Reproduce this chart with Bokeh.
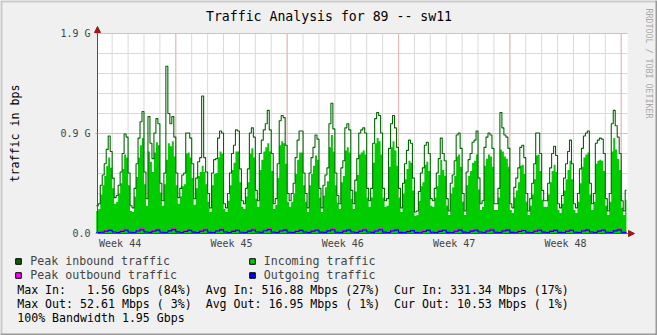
import numpy as np
from bokeh.plotting import figure
from bokeh.models import (Range1d, FixedTicker, LinearAxis, Label, Legend,
                          LegendItem, Arrow, NormalHead, Span)
from bokeh.embed import file_html
from bokeh.resources import INLINE

# ---------------- data ----------------
# inbound traffic sampled every 3 hours (Gbps); sample 0 = midnight before the first day shown
SAMPLE_DAYS = 0.125
peak_in = [
    0.27, 0.29, 0.47, 0.57, 0.68, 0.82, 0.95, 0.80,
    0.54, 0.35, 0.37, 0.47, 0.60, 0.78, 0.97, 0.94,
    0.59, 0.27, 0.25, 0.44, 0.68, 0.93, 1.09, 1.19,
    0.60, 0.34, 1.14, 0.88, 0.73, 0.98, 1.12, 1.07,
    0.49, 0.32, 0.59, 1.63, 1.17, 1.07, 1.14, 0.94,
    0.59, 0.35, 0.44, 0.57, 0.59, 0.98, 0.98, 0.93,
    0.68, 0.34, 0.54, 0.70, 0.74, 1.34, 0.74, 0.60,
    0.39, 0.25, 0.59, 0.72, 0.73, 0.93, 1.00, 0.98,
    0.29, 0.25, 0.39, 0.59, 0.78, 0.86, 1.01, 1.00,
    0.63, 0.32, 0.29, 0.44, 0.63, 0.98, 1.03, 0.94,
    0.42, 0.32, 0.78, 0.91, 1.01, 1.07, 1.20, 1.01,
    0.78, 0.29, 0.34, 0.68, 1.10, 1.15, 1.13, 0.86,
    0.39, 0.32, 0.39, 0.49, 0.74, 0.91, 1.00, 1.00,
    0.59, 0.39, 0.25, 0.59, 0.74, 0.84, 0.96, 0.92,
    0.44, 0.25, 0.47, 0.57, 0.64, 1.07, 1.27, 1.02,
    0.59, 0.37, 0.29, 0.64, 0.71, 1.03, 1.07, 1.01,
    0.42, 0.29, 0.52, 0.73, 0.98, 1.01, 1.03, 0.98,
    0.44, 0.32, 0.44, 0.88, 1.12, 1.18, 1.15, 0.98,
    0.44, 0.32, 0.34, 0.83, 1.07, 1.15, 1.03, 0.84,
    0.44, 0.25, 0.49, 0.68, 0.81, 0.91, 0.88, 0.54,
    0.21, 0.22, 0.41, 0.59, 0.64, 0.86, 0.89, 0.78,
    0.34, 0.32, 0.44, 0.59, 0.73, 0.93, 0.78, 0.71,
    0.34, 0.22, 0.49, 0.57, 0.71, 0.96, 0.98, 0.83,
    0.39, 0.22, 0.60, 0.72, 0.78, 0.89, 0.91, 1.00,
    0.54, 0.29, 0.32, 0.84, 0.94, 0.98, 0.96, 0.83,
    0.29, 0.29, 0.44, 1.18, 1.03, 0.96, 0.94, 0.83,
    0.29, 0.25, 0.45, 0.54, 0.64, 0.84, 0.86, 0.74,
    0.39, 0.22, 0.34, 0.49, 0.68, 0.98, 0.98, 0.78,
    0.42, 0.32, 0.32, 0.49, 0.64, 0.78, 0.85, 0.76,
    0.29, 0.25, 0.37, 0.54, 0.68, 0.80, 0.91, 0.68,
    0.29, 0.25, 0.39, 0.63, 0.83, 0.95, 0.98, 1.00,
    0.49, 0.29, 0.39, 0.88, 0.91, 0.93, 0.92, 0.78,
    0.34, 0.22, 0.39, 1.07, 1.20, 1.05, 0.94, 0.78,
    0.32, 0.22, 0.42,
]
avg_in = [
    0.22, 0.24, 0.38, 0.47, 0.56, 0.66, 0.74, 0.64,
    0.44, 0.29, 0.31, 0.39, 0.49, 0.63, 0.77, 0.74,
    0.47, 0.22, 0.21, 0.36, 0.55, 0.74, 0.86, 0.93,
    0.48, 0.27, 0.80, 0.70, 0.60, 0.79, 0.89, 0.86,
    0.40, 0.27, 0.48, 0.72, 0.88, 0.85, 0.90, 0.75,
    0.47, 0.29, 0.36, 0.46, 0.48, 0.78, 0.79, 0.74,
    0.54, 0.28, 0.44, 0.56, 0.60, 0.66, 0.60, 0.48,
    0.31, 0.21, 0.47, 0.58, 0.59, 0.74, 0.80, 0.78,
    0.24, 0.21, 0.32, 0.47, 0.62, 0.69, 0.80, 0.80,
    0.50, 0.26, 0.24, 0.36, 0.50, 0.78, 0.83, 0.74,
    0.34, 0.26, 0.62, 0.72, 0.80, 0.84, 0.88, 0.80,
    0.61, 0.24, 0.28, 0.54, 0.86, 0.90, 0.88, 0.68,
    0.31, 0.26, 0.31, 0.39, 0.58, 0.72, 0.79, 0.79,
    0.47, 0.31, 0.21, 0.47, 0.58, 0.66, 0.76, 0.72,
    0.35, 0.21, 0.37, 0.45, 0.51, 0.84, 0.96, 0.80,
    0.47, 0.30, 0.24, 0.50, 0.56, 0.81, 0.84, 0.79,
    0.34, 0.24, 0.41, 0.57, 0.77, 0.79, 0.81, 0.77,
    0.35, 0.26, 0.35, 0.69, 0.88, 0.93, 0.90, 0.77,
    0.35, 0.26, 0.27, 0.65, 0.84, 0.90, 0.81, 0.66,
    0.35, 0.21, 0.39, 0.53, 0.63, 0.71, 0.69, 0.42,
    0.17, 0.18, 0.32, 0.46, 0.50, 0.67, 0.70, 0.61,
    0.27, 0.26, 0.35, 0.46, 0.57, 0.72, 0.62, 0.56,
    0.27, 0.18, 0.39, 0.45, 0.56, 0.75, 0.77, 0.65,
    0.31, 0.18, 0.47, 0.56, 0.61, 0.69, 0.71, 0.77,
    0.43, 0.23, 0.26, 0.66, 0.73, 0.77, 0.75, 0.65,
    0.23, 0.23, 0.35, 0.82, 0.80, 0.75, 0.73, 0.65,
    0.23, 0.20, 0.35, 0.42, 0.50, 0.66, 0.67, 0.58,
    0.31, 0.18, 0.27, 0.38, 0.53, 0.76, 0.77, 0.61,
    0.33, 0.26, 0.26, 0.38, 0.50, 0.61, 0.67, 0.60,
    0.23, 0.20, 0.29, 0.42, 0.53, 0.62, 0.71, 0.53,
    0.23, 0.20, 0.31, 0.49, 0.65, 0.74, 0.77, 0.79,
    0.38, 0.23, 0.31, 0.68, 0.71, 0.72, 0.71, 0.61,
    0.27, 0.18, 0.31, 0.80, 0.93, 0.82, 0.73, 0.62,
    0.25, 0.18, 0.33,
]
# outbound traffic sampled every 6 hours (Mbps)
OUT_SAMPLE_DAYS = 0.25
peak_out_mbps = [
    12, 15, 28, 38, 18, 13, 26, 40, 15, 12, 30, 52, 19, 14, 28, 41,
    15, 13, 33, 48, 20, 13, 26, 38, 17, 12, 28, 43, 14, 13, 32, 44,
    18, 12, 27, 39, 15, 13, 29, 43, 19, 14, 34, 48, 17, 12, 30, 42,
    15, 13, 26, 38, 18, 12, 28, 40, 17, 14, 33, 46, 15, 13, 29, 42,
    18, 12, 28, 43, 19, 14, 32, 45, 17, 13, 30, 42, 14, 12, 23, 36,
    13, 11, 26, 38, 15, 12, 27, 39, 14, 12, 28, 42, 17, 13, 29, 40,
    18, 13, 30, 43, 15, 12, 32, 42, 14, 11, 26, 37, 15, 12, 28, 40,
    17, 13, 27, 38, 14, 12, 28, 39, 15, 13, 30, 42, 18, 12, 29, 40,
    15, 13, 33, 44, 14, 13,
]
avg_out_mbps = [
    9, 12, 22, 30, 14, 10, 20, 32, 12, 9, 24, 36, 15, 11, 22, 33,
    12, 10, 26, 38, 16, 10, 20, 30, 13, 9, 22, 34, 11, 10, 25, 35,
    14, 9, 21, 31, 12, 10, 23, 34, 15, 11, 27, 38, 13, 9, 24, 33,
    12, 10, 20, 30, 14, 9, 22, 32, 13, 11, 26, 37, 12, 10, 23, 33,
    14, 9, 22, 34, 15, 11, 25, 36, 13, 10, 24, 33, 11, 9, 18, 28,
    10, 8, 20, 30, 12, 9, 21, 31, 11, 9, 22, 33, 13, 10, 23, 32,
    14, 10, 24, 34, 12, 9, 25, 33, 11, 8, 20, 29, 12, 9, 22, 32,
    13, 10, 21, 30, 11, 9, 22, 31, 12, 10, 24, 33, 14, 9, 23, 32,
    12, 10, 26, 35, 11, 10,
]
DATA_END_DAY = 33.33

# axes / grid (days since the first midnight; Gbps)
X_START, X_END = 0.0773, 33.396
Y_MAX = 1.95
week_label_days = [1.5, 8.5, 15.5, 22.5, 29.5]
week_labels = ["Week 44", "Week 45", "Week 46", "Week 47", "Week 48"]
week_boundary_days = [5, 12, 19, 26, 33]
day_grid_days = [d for d in range(1, 34)]
y_ticks = [0.0, 0.975, 1.95]
y_tick_labels = ["0.0", "0.9 G", "1.9 G"]
y_minor_ticks = [0.195, 0.39, 0.585, 0.78, 0.975, 1.17, 1.365, 1.56, 1.755, 1.95]

title_text = "Traffic Analysis for 89 -- sw11"
y_title = "traffic in bps"
watermark = "RRDTOOL / TOBI OETIKER"
legend_col1 = ["Peak inbound traffic", "Peak outbound traffic"]
legend_col2 = ["Incoming traffic", "Outgoing traffic"]
colors = {"peak_in": "#006600", "avg_in": "#00CC00", "peak_out": "#FF00FF", "avg_out": "#0000FF"}
stats_lines = [
    "Max In:   1.56 Gbps (84%)  Avg In: 516.88 Mbps (27%)  Cur In: 331.34 Mbps (17%)",
    "Max Out: 52.61 Mbps ( 3%)  Avg Out: 16.95 Mbps ( 1%)  Cur Out: 10.53 Mbps ( 1%)",
    "100% Bandwidth 1.95 Gbps",
]

# ---------------- figure ----------------
W, H = 657, 335
FL, FR, FT, FB = 97, 627, 33, 233     # graph-area edges in canvas pixels
MONO = "DejaVu Sans Mono"

ppd = (FR - FL) / (X_END - X_START)   # pixels per day
ppg = (FB - FT) / Y_MAX               # pixels per Gbps
x_range = Range1d(X_START - FL / ppd, X_END + (W - FR) / ppd)
y_range = Range1d(-(H - FB) / ppg, Y_MAX + FT / ppg)

p = figure(width=W, height=H, output_backend="svg", toolbar_location=None,
           x_axis_type=None, y_axis_type=None, x_range=x_range, y_range=y_range,
           min_border=0)
p.background_fill_color = "#F0F0F0"
p.border_fill_color = "#F0F0F0"
p.outline_line_color = None
p.xgrid.visible = False
p.ygrid.visible = False

# canvas of the graph
p.quad(left=X_START, right=X_END, bottom=0, top=Y_MAX, fill_color="#FFFFFF", line_color=None)

# grid lines
minor_c, major_c = "#dadada", "#f2b2b2"
p.segment(x0=day_grid_days, x1=day_grid_days, y0=0, y1=Y_MAX, line_color=minor_c, line_width=1)
p.segment(x0=X_START, x1=X_END, y0=y_minor_ticks, y1=y_minor_ticks, line_color=minor_c, line_width=1)
p.segment(x0=week_boundary_days, x1=week_boundary_days, y0=0, y1=Y_MAX, line_color=major_c, line_width=1)
p.segment(x0=X_START, x1=X_END, y0=y_ticks[1:], y1=y_ticks[1:], line_color=major_c, line_width=1)

# series
x_in = list(np.arange(len(peak_in)) * SAMPLE_DAYS) + [DATA_END_DAY]
pk_in = peak_in + [peak_in[-1]]
av_in = avg_in + [avg_in[-1]]
x_out = list(np.arange(len(avg_out_mbps)) * OUT_SAMPLE_DAYS) + [DATA_END_DAY]
pk_out = [v / 1000 for v in peak_out_mbps] + [peak_out_mbps[-1] / 1000]
av_out = [v / 1000 for v in avg_out_mbps] + [avg_out_mbps[-1] / 1000]

p.varea_step(x=x_in, y1=0, y2=av_in, step_mode="after", fill_color=colors["avg_in"])
p.step(x_in, pk_in, mode="after", line_color=colors["peak_in"], line_width=1.1)
p.step(x_out, pk_out, mode="after", line_color=colors["peak_out"], line_width=1.1)
p.step(x_out, av_out, mode="after", line_color=colors["avg_out"], line_width=1.1)

# axes drawn at the graph-area edges
axis_color = "#505050"
yaxis = LinearAxis(ticker=FixedTicker(ticks=y_ticks), fixed_location=X_START, bounds=(0, Y_MAX),
                   major_label_overrides={t: l for t, l in zip(y_ticks, y_tick_labels)},
                   axis_label=y_title, axis_label_standoff=35,
                   axis_label_text_font=MONO, axis_label_text_font_size="11.6px",
                   axis_label_text_font_style="normal", axis_label_text_color="#000000",
                   major_label_text_font=MONO, major_label_text_font_size="10px",
                   major_label_standoff=5, major_tick_in=0, major_tick_out=2,
                   major_tick_line_color="#e09090", minor_tick_line_color=None,
                   axis_line_color=axis_color)
p.add_layout(yaxis, "left")
xaxis = LinearAxis(ticker=FixedTicker(ticks=week_label_days), fixed_location=0,
                   bounds=(X_START, X_END),
                   major_label_overrides={t: l for t, l in zip(week_label_days, week_labels)},
                   major_label_text_font=MONO, major_label_text_font_size="10px",
                   major_label_standoff=4, major_tick_in=0, major_tick_out=0,
                   major_tick_line_color=None, minor_tick_line_color=None,
                   axis_line_color=axis_color)
p.add_layout(xaxis, "below")

# axis arrows
arrow_red = "#a01818"
p.add_layout(Arrow(x_start=X_END, y_start=0, x_end=X_END + 7 / ppd, y_end=0,
                   line_color=axis_color, line_width=1,
                   end=NormalHead(size=6, fill_color=arrow_red, line_color=arrow_red)))
p.add_layout(Arrow(x_start=X_START, y_start=Y_MAX, x_end=X_START, y_end=Y_MAX + 7 / ppg,
                   line_color=axis_color, line_width=1,
                   end=NormalHead(size=6, fill_color=arrow_red, line_color=arrow_red)))

# 3D frame of the image
p.add_layout(Span(location=y_range.end, dimension="width", line_color="#cbcbcb", line_width=4))
p.add_layout(Span(location=x_range.start, dimension="height", line_color="#cbcbcb", line_width=4))
p.add_layout(Span(location=y_range.start, dimension="width", line_color="#999999", line_width=4))
p.add_layout(Span(location=x_range.end, dimension="height", line_color="#999999", line_width=4))


def sx(cx):
    return cx


def sy(cy):
    return H - cy


# title
p.add_layout(Label(x=sx(328.5), y=sy(16), x_units="screen", y_units="screen", text=title_text,
                   text_font=MONO, text_font_size="13.2px", text_align="center",
                   text_baseline="middle", text_color="#000000"))
# watermark
p.add_layout(Label(x=sx(648), y=sy(8), x_units="screen", y_units="screen", text=watermark,
                   text_font=MONO, text_font_size="8.3px", text_align="left",
                   text_baseline="middle", text_color="#a8a8a8", angle=-np.pi / 2))
# stats lines
for i, line in enumerate(stats_lines):
    p.add_layout(Label(x=sx(16.7), y=sy(289 + 14.2 * i), x_units="screen", y_units="screen",
                       text=line.replace(" ", "\u00a0"), text_font=MONO,
                       text_font_size="11.6px", text_align="left", text_baseline="middle",
                       text_color="#000000"))


# legend swatches: renderers holding a single missing point, drawn only in the legend
def swatch(color):
    return p.scatter(x=[float("nan")], y=[float("nan")], marker="square", size=6,
                     fill_color=color, line_color="#000000", line_width=1)


r_pi = swatch(colors["peak_in"])
r_po = swatch(colors["peak_out"])
r_ai = swatch(colors["avg_in"])
r_ao = swatch(colors["avg_out"])

legend_style = dict(glyph_width=14, glyph_height=14, label_standoff=5, padding=0, margin=0,
                    spacing=0, label_height=12, label_text_font=MONO,
                    label_text_font_size="11.6px", border_line_color=None,
                    background_fill_alpha=0, label_text_baseline="middle")
leg1 = Legend(items=[LegendItem(label=legend_col1[0], renderers=[r_pi], index=0),
                     LegendItem(label=legend_col1[1], renderers=[r_po], index=0)],
              location=(sx(11.3), sy(281.7)), **legend_style)
leg2 = Legend(items=[LegendItem(label=legend_col2[0], renderers=[r_ai], index=0),
                     LegendItem(label=legend_col2[1], renderers=[r_ao], index=0)],
              location=(sx(244.7), sy(281.7)), **legend_style)
p.add_layout(leg1)
p.add_layout(leg2)

open("out.html", "w").write(file_html(p, INLINE))
